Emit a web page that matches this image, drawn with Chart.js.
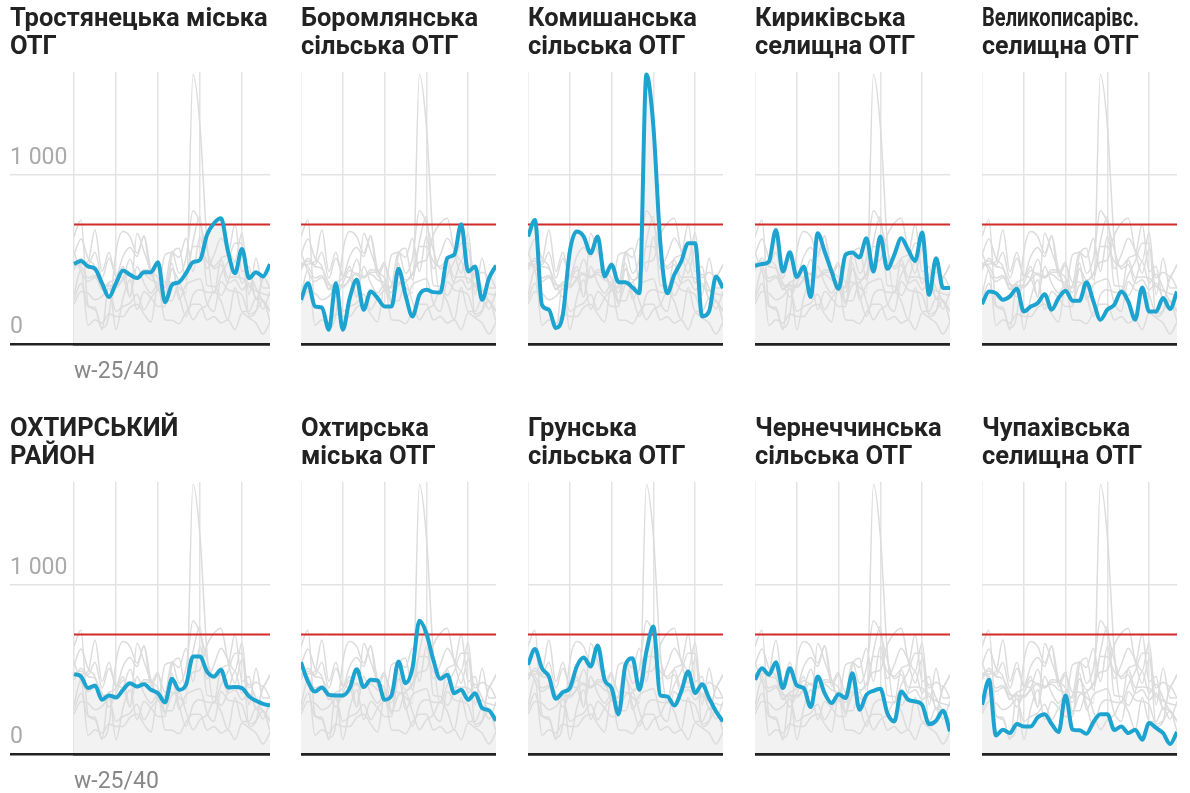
<!DOCTYPE html>
<html><head><meta charset="utf-8">
<script src="https://cdn.jsdelivr.net/npm/chart.js@4/dist/chart.umd.min.js"></script>
<style>
html,body{margin:0;padding:0;background:#fff;width:1190px;height:793px;overflow:hidden;}
.p{position:absolute;}
</style></head><body>
<script>
// ---- data ----
const xLabels = ['w-25/40','','','','','','','','','','','','','','','','','','','','','','','','','','','',''];
const yTicks = [0, 1000];
const threshold = 708;
const yMax = 1610;

const titles = [
  ['Тростянецька міська', 'ОТГ'],
  ['Боромлянська', 'сільська ОТГ'],
  ['Комишанська', 'сільська ОТГ'],
  ['Кириківська', 'селищна ОТГ'],
  ['Великописарівс.', 'селищна ОТГ'],
  ['ОХТИРСЬКИЙ', 'РАЙОН'],
  ['Охтирська', 'міська ОТГ'],
  ['Грунська', 'сільська ОТГ'],
  ['Чернеччинська', 'сільська ОТГ'],
  ['Чупахівська', 'селищна ОТГ']
];

const trostianets = [474,492,459,445,360,278,360,435,410,390,425,425,484,248,350,366,419,484,498,646,715,744,547,419,563,390,425,400,472];
const boromlia = [262,360,222,217,85,360,85,272,380,203,311,272,222,222,445,291,163,291,321,307,305,508,528,709,429,459,262,390,465];
const komyshanska = [636,734,232,203,95,173,547,666,636,538,636,400,469,366,366,335,301,1595,1290,600,301,410,488,597,597,163,193,400,331];
const kyrykivska = [463,473,488,675,429,543,396,459,278,656,547,429,327,528,541,512,626,429,636,445,528,626,557,492,660,291,508,331,331];
const velykopysarivska = [236,311,301,262,282,327,193,222,242,295,203,272,315,256,256,366,252,144,203,232,311,252,144,335,193,193,272,207,311];
const okhtyrskyiRaion = [473,459,390,406,321,347,335,380,419,400,413,380,360,305,445,380,410,577,577,488,459,498,394,396,390,341,315,297,287];
const okhtyrska = [543,429,370,394,350,347,347,390,502,396,439,435,321,347,547,419,508,788,715,557,445,469,360,380,321,360,272,258,197];
const hrunska = [528,622,508,459,327,366,390,518,571,518,642,439,390,236,528,567,380,606,754,347,341,287,370,488,360,413,331,252,193];
const chernechchynska = [439,508,469,543,390,508,406,390,278,459,360,301,354,331,478,262,350,374,386,242,193,370,321,311,291,177,197,256,134];
const chupakhivska = [291,439,110,144,124,177,163,163,217,236,177,130,347,144,140,120,189,236,236,142,163,124,144,85,183,154,124,59,130];

const seriesList = [trostianets, boromlia, komyshanska, kyrykivska, velykopysarivska,
                    okhtyrskyiRaion, okhtyrska, hrunska, chernechchynska, chupakhivska];

// ---- drawing ----
Chart.defaults.font.family = 'Roboto, "Noto Sans", sans-serif';
const BLUE = '#1ca3d0', RED = '#d42a2a', GREY = '#dcdcdc', GRID = '#e3e3e3', FILL = '#f2f2f2';
const colLefts = [10, 301, 528, 755, 982];
const titleMaxWidth = [null, null, null, null, 157, null, null, null, null, null];
const TITLE_FONT = 'bold 25.5px Roboto, "Noto Sans", sans-serif';

// draws the (layout-reserving) title text with an optional width limit
const titleText = {
  id: 'titleText',
  afterDraw(chart, args, opts) {
    const ctx = chart.ctx;
    ctx.save();
    ctx.font = TITLE_FONT; ctx.fillStyle = '#222';
    ctx.textAlign = 'left'; ctx.textBaseline = 'middle';
    const mw = opts.maxWidth || chart.width;
    opts.lines.forEach((t, i) => ctx.fillText(t, 0, 6 + 14 + i * 28, mw));
    ctx.restore();
  }
};

seriesList.forEach((series, k) => {
  const row = Math.floor(k / 5), col = k % 5;
  const first = col === 0;
  const div = document.createElement('div');
  div.className = 'p';
  const w = first ? 260 : 195, h = 395;
  div.style.left = colLefts[col] + 'px';
  div.style.top = (row === 0 ? 0 : 410) + 'px';
  div.style.width = w + 'px'; div.style.height = h + 'px';
  const cv = document.createElement('canvas');
  cv.width = w; cv.height = h;
  div.appendChild(cv);
  document.body.appendChild(div);

  const datasets = [];
  // highlighted series (drawn on top)
  datasets.push({ data: series, borderColor: BLUE, borderWidth: 4, pointRadius: 0, cubicInterpolationMode: 'monotone', fill: false });
  datasets.push({ data: xLabels.map(() => threshold), borderColor: RED, borderWidth: 2, pointRadius: 0, fill: false });
  seriesList.forEach((s, j) => {
    if (j === k) return;
    datasets.push({ data: s, borderColor: GREY, borderWidth: 1.5, pointRadius: 0, cubicInterpolationMode: 'monotone', fill: false });
  });
  // area under highlighted series (drawn first, beneath everything)
  datasets.push({ data: series, borderWidth: 0, borderColor: 'rgba(0,0,0,0)', backgroundColor: FILL, pointRadius: 0, cubicInterpolationMode: 'monotone', fill: 'origin' });

  new Chart(cv, {
    type: 'line',
    data: { labels: xLabels, datasets },
    plugins: [titleText],
    options: {
      responsive: false, animation: false, devicePixelRatio: 1,
      layout: { padding: 0 },
      plugins: {
        legend: { display: false }, tooltip: { enabled: false },
        title: {
          display: true, text: titles[k], align: 'start', color: 'rgba(0,0,0,0)',
          font: { size: 25.5, weight: 'bold', lineHeight: '28px' },
          padding: { top: 6, bottom: 10 }
        },
        titleText: { lines: titles[k], maxWidth: titleMaxWidth[k] }
      },
      scales: {
        x: {
          grid: { color: c => (c.index % 6 === 0 ? GRID : 'rgba(0,0,0,0)'), lineWidth: 1.5, drawTicks: true, tickLength: 14, tickColor: 'rgba(0,0,0,0)' },
          border: { display: true, color: '#222', width: 2.5, z: 1 },
          ticks: {
            display: true, autoSkip: false, maxRotation: 0, minRotation: 0, align: 'start', padding: 0,
            color: '#888', font: { size: 23 },
            callback: (v, i) => (first ? xLabels[i] : '')
          },
          afterFit: a => { a.height = 51; }
        },
        y: {
          min: 0, max: yMax,
          afterBuildTicks: a => { a.ticks = yTicks.map(v => ({ value: v })); },
          grid: {
            color: c => (c.tick && c.tick.value === 0 ? '#222' : GRID),
            lineWidth: c => (c.tick && c.tick.value === 0 ? 2.5 : 1.5),
            drawTicks: first, tickLength: 64
          },
          border: { display: false },
          ticks: {
            display: first, crossAlign: 'far', padding: 0, labelOffset: -17,
            color: '#aaa', font: { size: 23 },
            callback: v => (v === 1000 ? '1 000' : String(v))
          },
          afterFit: a => { a.width = first ? 64 : 0; }
        }
      }
    }
  });
});
</script>
</body></html>
